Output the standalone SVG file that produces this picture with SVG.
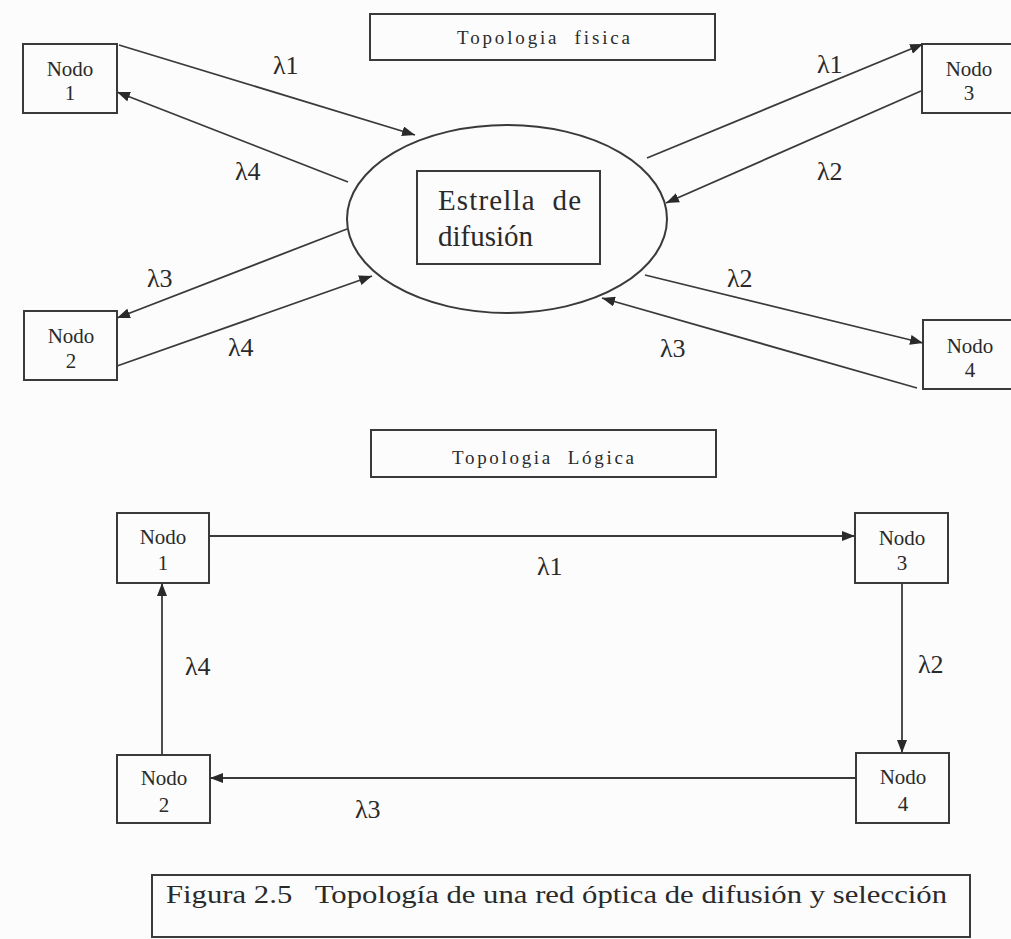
<svg xmlns="http://www.w3.org/2000/svg" width="1011" height="939" viewBox="0 0 1011 939">
  <style>
    .box { fill: none; stroke: #3a3a3a; stroke-width: 2; }
    .wire { fill: none; stroke: #3a3a3a; stroke-width: 1.8; }
    text { font-family: 'Liberation Serif', serif; fill: #2a2a2a; }
    .node { font-size: 21px; text-anchor: middle; }
    .lam { font-size: 26px; }
    .title { font-size: 19px; }
  </style>
  <defs>
    <marker id="arrow" markerUnits="userSpaceOnUse" markerWidth="14" markerHeight="10" refX="13" refY="5" orient="auto">
      <path d="M0,0 L13,5 L0,10 z" fill="#2a2a2a"/>
    </marker>
  </defs>

  <rect width="1011" height="939" fill="#fcfcfc"/>

  <!-- upper half: physical topology -->
  <g id="title-fisica">
    <rect class="box" x="370" y="14" width="345" height="46"/>
    <text class="title" x="457" y="44" textLength="173" lengthAdjust="spacing" xml:space="preserve">Topologia  fisica</text>
  </g>

  <g id="star">
    <ellipse class="box" cx="507" cy="219" rx="160" ry="94"/>
    <rect class="box" x="417" y="171" width="183" height="93"/>
    <text x="438" y="210" font-size="29" textLength="143" lengthAdjust="spacing" xml:space="preserve">Estrella  de</text>
    <text x="438" y="246" font-size="29">difusión</text>
  </g>

  <g id="p-nodo1">
    <rect class="box" x="23" y="44" width="94" height="69"/>
    <text class="node" x="70" y="76">Nodo</text>
    <text class="node" x="70" y="100">1</text>
  </g>
  <g id="p-nodo3">
    <rect class="box" x="922" y="44" width="94" height="69"/>
    <text class="node" x="969" y="76">Nodo</text>
    <text class="node" x="969" y="100">3</text>
  </g>
  <g id="p-nodo2">
    <rect class="box" x="24" y="311" width="93" height="69"/>
    <text class="node" x="71" y="343">Nodo</text>
    <text class="node" x="71" y="368">2</text>
  </g>
  <g id="p-nodo4">
    <rect class="box" x="923" y="320" width="94" height="69"/>
    <text class="node" x="970" y="353">Nodo</text>
    <text class="node" x="970" y="377">4</text>
  </g>

  <g id="p-links">
    <line class="wire" x1="119" y1="45" x2="415" y2="135" marker-end="url(#arrow)"/>
    <line class="wire" x1="348" y1="182" x2="117" y2="92" marker-end="url(#arrow)"/>
    <line class="wire" x1="647" y1="158" x2="923" y2="44" marker-end="url(#arrow)"/>
    <line class="wire" x1="921" y1="91" x2="666" y2="203" marker-end="url(#arrow)"/>
    <line class="wire" x1="347" y1="229" x2="117" y2="318" marker-end="url(#arrow)"/>
    <line class="wire" x1="117" y1="366" x2="372" y2="276" marker-end="url(#arrow)"/>
    <line class="wire" x1="645" y1="275" x2="923" y2="343" marker-end="url(#arrow)"/>
    <line class="wire" x1="917" y1="388" x2="602" y2="298" marker-end="url(#arrow)"/>
  </g>

  <g id="p-labels">
    <text class="lam" x="273" y="74">λ1</text>
    <text class="lam" x="235" y="180">λ4</text>
    <text class="lam" x="817" y="73">λ1</text>
    <text class="lam" x="817" y="180">λ2</text>
    <text class="lam" x="147" y="287">λ3</text>
    <text class="lam" x="228" y="356">λ4</text>
    <text class="lam" x="727" y="287">λ2</text>
    <text class="lam" x="660" y="357">λ3</text>
  </g>

  <!-- lower half: logical topology -->
  <g id="title-logica">
    <rect class="box" x="371" y="430" width="345" height="47"/>
    <text class="title" x="452" y="464" textLength="182" lengthAdjust="spacing" xml:space="preserve">Topologia  Lógica</text>
  </g>

  <g id="l-nodo1">
    <rect class="box" x="117" y="513" width="92" height="70"/>
    <text class="node" x="163" y="544">Nodo</text>
    <text class="node" x="163" y="570">1</text>
  </g>
  <g id="l-nodo3">
    <rect class="box" x="855" y="513" width="93" height="70"/>
    <text class="node" x="902" y="545">Nodo</text>
    <text class="node" x="902" y="570" fill="#666">3</text>
  </g>
  <g id="l-nodo2">
    <rect class="box" x="117" y="755" width="93" height="68"/>
    <text class="node" x="164" y="785">Nodo</text>
    <text class="node" x="164" y="812">2</text>
  </g>
  <g id="l-nodo4">
    <rect class="box" x="856" y="753" width="93" height="70"/>
    <text class="node" x="903" y="784">Nodo</text>
    <text class="node" x="903" y="811" font-size="17">4</text>
  </g>

  <g id="l-links">
    <line class="wire" x1="209" y1="536" x2="855" y2="536" marker-end="url(#arrow)"/>
    <line class="wire" x1="902" y1="583" x2="902" y2="753" marker-end="url(#arrow)"/>
    <line class="wire" x1="856" y1="778" x2="210" y2="778" marker-end="url(#arrow)"/>
    <line class="wire" x1="162" y1="755" x2="162" y2="583" marker-end="url(#arrow)"/>
  </g>

  <g id="l-labels">
    <text class="lam" x="537" y="575">λ1</text>
    <text class="lam" x="918" y="673">λ2</text>
    <text class="lam" x="185" y="675">λ4</text>
    <text class="lam" x="355" y="818">λ3</text>
  </g>

  <g id="caption">
    <rect class="box" x="152" y="875" width="818" height="62"/>
    <text x="166" y="903" font-size="26" textLength="781" lengthAdjust="spacingAndGlyphs" xml:space="preserve">Figura 2.5   Topología de una red óptica de difusión y selección</text>
  </g>
</svg>
